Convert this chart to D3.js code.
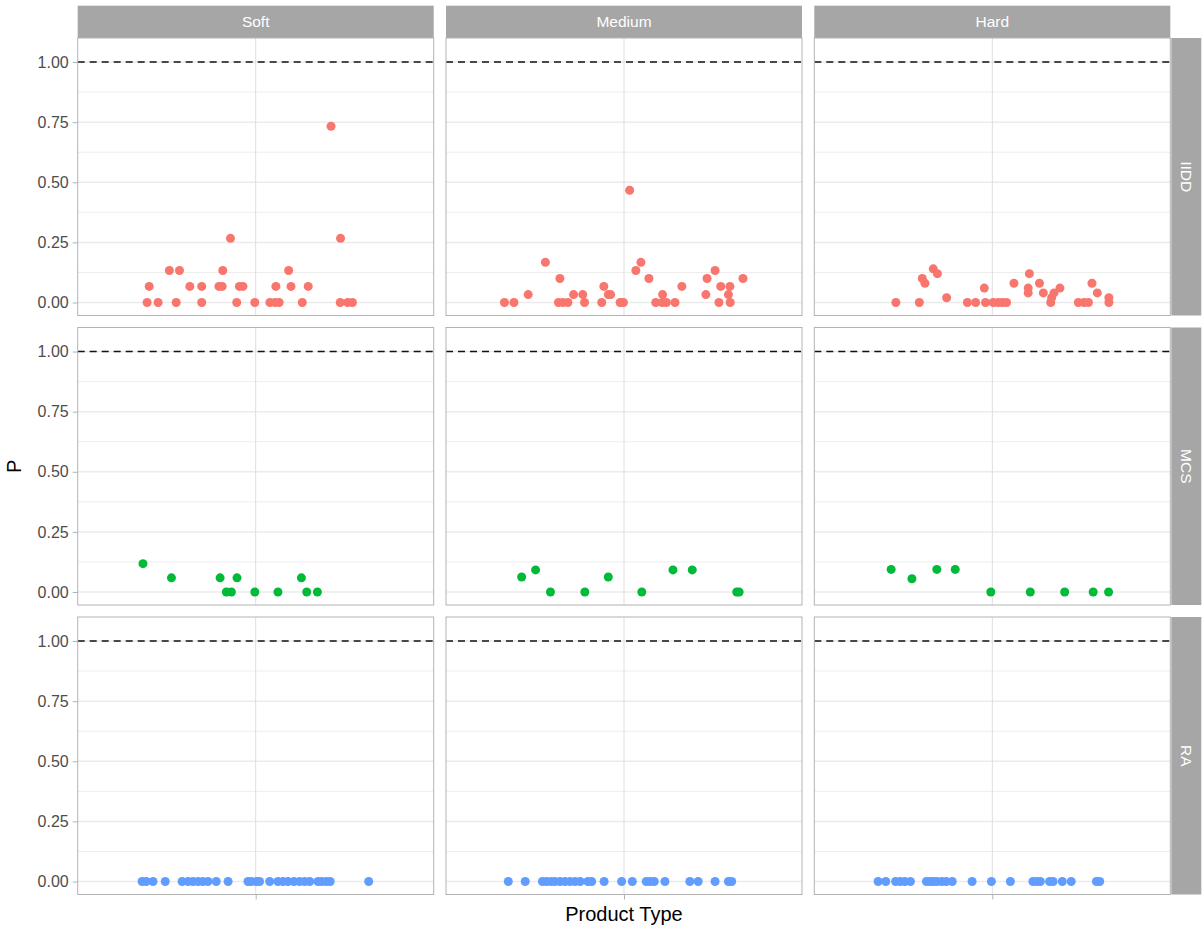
<!DOCTYPE html>
<html>
<head>
<meta charset="utf-8">
<script src="https://cdn.jsdelivr.net/npm/d3@7"></script>
<style>
  body { margin: 0; background: #ffffff; }
  svg { display: block; }
  text { font-family: "Liberation Sans", Arial, Helvetica, sans-serif; }
</style>
</head>
<body>
<svg id="chart" width="1203" height="928"></svg>
<script>
// Facet levels and styling keys
const productTypes = ["Soft", "Medium", "Hard"];
const measures = ["IIDD", "MCS", "RA"];
const measureColors = ["#F8766D", "#00BA38", "#619CFF"];
const yTicks = [0, 0.25, 0.5, 0.75, 1];
const yTickLabels = ["0.00", "0.25", "0.50", "0.75", "1.00"];
const yMinorTicks = [0.125, 0.375, 0.625, 0.875];
const referenceP = 1;
const xTitle = "Product Type";
const yTitle = "P";

// Each point: [jittered x (category centre = 1), P]
const iiddSoft = [
  [0.634, 0], [0.671, 0], [0.732, 0], [0.818, 0], [0.936, 0], [0.997, 0], [1.048, 0],
  [1.065, 0], [1.079, 0], [1.157, 0], [1.285, 0], [1.310, 0], [1.326, 0],
  [0.641, 0.067], [0.778, 0.067], [0.818, 0.067], [0.876, 0.067], [0.887, 0.067],
  [0.945, 0.067], [0.957, 0.067], [1.068, 0.067], [1.119, 0.067], [1.177, 0.067],
  [0.709, 0.133], [0.743, 0.133], [0.889, 0.133], [1.111, 0.133],
  [0.915, 0.267], [1.286, 0.267],
  [1.254, 0.733]
];
const iiddMedium = [
  [0.597, 0], [0.629, 0], [0.779, 0], [0.794, 0], [0.811, 0], [0.867, 0], [0.925, 0],
  [0.987, 0], [0.998, 0], [1.107, 0], [1.129, 0], [1.143, 0], [1.172, 0], [1.320, 0], [1.358, 0],
  [0.677, 0.033], [0.830, 0.033], [0.861, 0.033], [0.947, 0.033], [0.955, 0.033],
  [1.130, 0.033], [1.276, 0.033], [1.352, 0.033],
  [0.932, 0.067], [1.195, 0.067], [1.326, 0.067], [1.357, 0.067],
  [0.784, 0.1], [1.084, 0.1], [1.280, 0.1], [1.401, 0.1],
  [1.040, 0.133], [1.307, 0.133],
  [0.735, 0.167], [1.057, 0.167],
  [1.019, 0.467]
];
const iiddHard = [
  [0.675, 0], [0.754, 0], [0.764, 0.10], [0.773, 0.08], [0.801, 0.14], [0.815, 0.12],
  [0.846, 0.02], [0.916, 0], [0.944, 0], [0.973, 0.06], [0.977, 0], [1.003, 0], [1.020, 0],
  [1.034, 0], [1.048, 0], [1.073, 0.08], [1.121, 0.06], [1.121, 0.04], [1.125, 0.12],
  [1.159, 0.08], [1.172, 0.04], [1.197, 0], [1.200, 0.02], [1.208, 0.04], [1.228, 0.06],
  [1.290, 0], [1.309, 0], [1.324, 0], [1.336, 0.08], [1.354, 0.04], [1.393, 0.02], [1.393, 0]
];
const mcsSoft = [
  [0.620, 0.118], [0.716, 0.059], [0.880, 0.059], [0.901, 0], [0.918, 0], [0.937, 0.059],
  [0.997, 0], [1.075, 0], [1.154, 0.059], [1.172, 0], [1.208, 0]
];
const mcsMedium = [
  [0.655, 0.0625], [0.702, 0.092], [0.752, 0], [0.868, 0], [0.947, 0.0625],
  [1.060, 0], [1.165, 0.092], [1.230, 0.092], [1.380, 0], [1.388, 0]
];
const mcsHard = [
  [0.659, 0.094], [0.729, 0.055], [0.813, 0.094], [0.875, 0.094], [0.995, 0],
  [1.128, 0], [1.244, 0], [1.340, 0], [1.392, 0]
];
const raSoft = [
  [0.617, 0], [0.631, 0], [0.654, 0], [0.695, 0], [0.752, 0], [0.772, 0], [0.789, 0],
  [0.806, 0], [0.822, 0], [0.839, 0], [0.867, 0], [0.907, 0], [0.974, 0], [0.985, 0],
  [1.002, 0], [1.013, 0], [1.047, 0], [1.075, 0], [1.092, 0], [1.109, 0], [1.129, 0],
  [1.148, 0], [1.165, 0], [1.182, 0], [1.210, 0], [1.223, 0], [1.238, 0], [1.251, 0], [1.381, 0]
];
const raMedium = [
  [0.610, 0], [0.667, 0], [0.725, 0], [0.739, 0], [0.754, 0], [0.767, 0], [0.784, 0],
  [0.801, 0], [0.818, 0], [0.835, 0], [0.852, 0], [0.878, 0], [0.891, 0], [0.933, 0],
  [0.992, 0], [1.028, 0], [1.075, 0], [1.088, 0], [1.102, 0], [1.138, 0], [1.222, 0],
  [1.250, 0], [1.307, 0], [1.352, 0], [1.363, 0]
];
const raHard = [
  [0.615, 0], [0.641, 0], [0.674, 0], [0.690, 0], [0.705, 0], [0.724, 0], [0.778, 0],
  [0.791, 0], [0.802, 0], [0.814, 0], [0.830, 0], [0.845, 0], [0.865, 0], [0.932, 0],
  [0.997, 0], [1.061, 0], [1.137, 0], [1.151, 0], [1.162, 0], [1.193, 0], [1.205, 0],
  [1.236, 0], [1.266, 0], [1.351, 0], [1.362, 0]
];

// rows = measures, columns = product types
const facetData = [
  [iiddSoft, iiddMedium, iiddHard],
  [mcsSoft, mcsMedium, mcsHard],
  [raSoft, raMedium, raHard]
];

// Layout
const panelLeft = 77.7, panelTop = 38;
const panelW = 356, panelH = 277.5;
const gapX = 12.3, gapY = 12;
const stripH = 32.3, stripW = 30;

const svg = d3.select("#chart");

const x = d3.scaleLinear().domain([0.4, 1.6]).range([0, panelW]);
const y = d3.scaleLinear().domain([-0.054, 1.1]).range([panelH, 0]);

const gridCol = "#EBEBEB";
const borderCol = "#B3B3B3";
const stripFill = "#A6A6A6";

// Column strips
productTypes.forEach((pt, c) => {
  const px = panelLeft + c * (panelW + gapX);
  svg.append("rect")
    .attr("x", px).attr("y", panelTop - stripH)
    .attr("width", panelW).attr("height", stripH)
    .attr("fill", stripFill);
  svg.append("text")
    .attr("x", px + panelW / 2).attr("y", panelTop - stripH / 2)
    .attr("dy", "0.35em").attr("text-anchor", "middle")
    .attr("font-size", 15.5).attr("fill", "#FFFFFF")
    .text(pt);
});

measures.forEach((m, r) => {
  const py = panelTop + r * (panelH + gapY);

  // Row strip
  const sx = panelLeft + 3 * panelW + 2 * gapX + 1;
  svg.append("rect")
    .attr("x", sx).attr("y", py)
    .attr("width", stripW).attr("height", panelH)
    .attr("fill", stripFill);
  svg.append("text")
    .attr("transform", `translate(${sx + stripW / 2},${py + panelH / 2}) rotate(90)`)
    .attr("dy", "0.35em").attr("text-anchor", "middle")
    .attr("font-size", 15.5).attr("fill", "#FFFFFF")
    .text(m);

  productTypes.forEach((pt, c) => {
    const px = panelLeft + c * (panelW + gapX);
    const g = svg.append("g").attr("transform", `translate(${px},${py})`);

    g.append("rect").attr("width", panelW).attr("height", panelH).attr("fill", "#FFFFFF");

    // Grid lines
    g.selectAll(".minor").data(yMinorTicks).join("line")
      .attr("x1", 0).attr("x2", panelW)
      .attr("y1", d => y(d)).attr("y2", d => y(d))
      .attr("stroke", gridCol).attr("stroke-width", 0.9);
    g.selectAll(".major").data(yTicks).join("line")
      .attr("x1", 0).attr("x2", panelW)
      .attr("y1", d => y(d)).attr("y2", d => y(d))
      .attr("stroke", gridCol).attr("stroke-width", 1.5);
    g.append("line")
      .attr("x1", x(1)).attr("x2", x(1))
      .attr("y1", 0).attr("y2", panelH)
      .attr("stroke", "#DEDEDE").attr("stroke-width", 1);

    // Reference line at P = 1
    g.append("line")
      .attr("x1", 0).attr("x2", panelW)
      .attr("y1", y(referenceP)).attr("y2", y(referenceP))
      .attr("stroke", "#111111").attr("stroke-width", 1.5)
      .attr("stroke-dasharray", "7,5");

    // Points
    g.selectAll("circle").data(facetData[r][c]).join("circle")
      .attr("cx", d => x(d[0])).attr("cy", d => y(d[1]))
      .attr("r", 4.5)
      .attr("fill", measureColors[r]);

    // Border
    g.append("rect").attr("width", panelW).attr("height", panelH)
      .attr("fill", "none").attr("stroke", borderCol).attr("stroke-width", 1);

    // Y axis on first column
    if (c === 0) {
      const ax = g.append("g").call(
        d3.axisLeft(y).tickValues(yTicks)
          .tickFormat((d, i) => yTickLabels[i])
          .tickSize(5).tickPadding(4)
      );
      ax.select(".domain").remove();
      ax.selectAll(".tick line").attr("stroke", borderCol);
      ax.selectAll(".tick text")
        .attr("font-size", 16).attr("fill", "#4D4D4D")
        .attr("font-family", "Liberation Sans, Arial, sans-serif");
    }

    // X axis ticks on bottom row
    if (r === measures.length - 1) {
      const ax = g.append("g").attr("transform", `translate(0,${panelH})`).call(
        d3.axisBottom(x).tickValues([1]).tickFormat("").tickSize(5)
      );
      ax.select(".domain").remove();
      ax.selectAll(".tick line").attr("stroke", borderCol);
    }
  });
});

// Axis titles
const gridRight = panelLeft + 3 * panelW + 2 * gapX;
svg.append("text")
  .attr("x", (panelLeft + gridRight) / 2)
  .attr("y", 921)
  .attr("text-anchor", "middle")
  .attr("font-size", 20).attr("fill", "#000000")
  .text(xTitle);

svg.append("text")
  .attr("transform", `translate(21,${panelTop + (3 * panelH + 2 * gapY) / 2}) rotate(-90)`)
  .attr("text-anchor", "middle")
  .attr("font-size", 20).attr("fill", "#000000")
  .text(yTitle);
</script>
</body>
</html>
